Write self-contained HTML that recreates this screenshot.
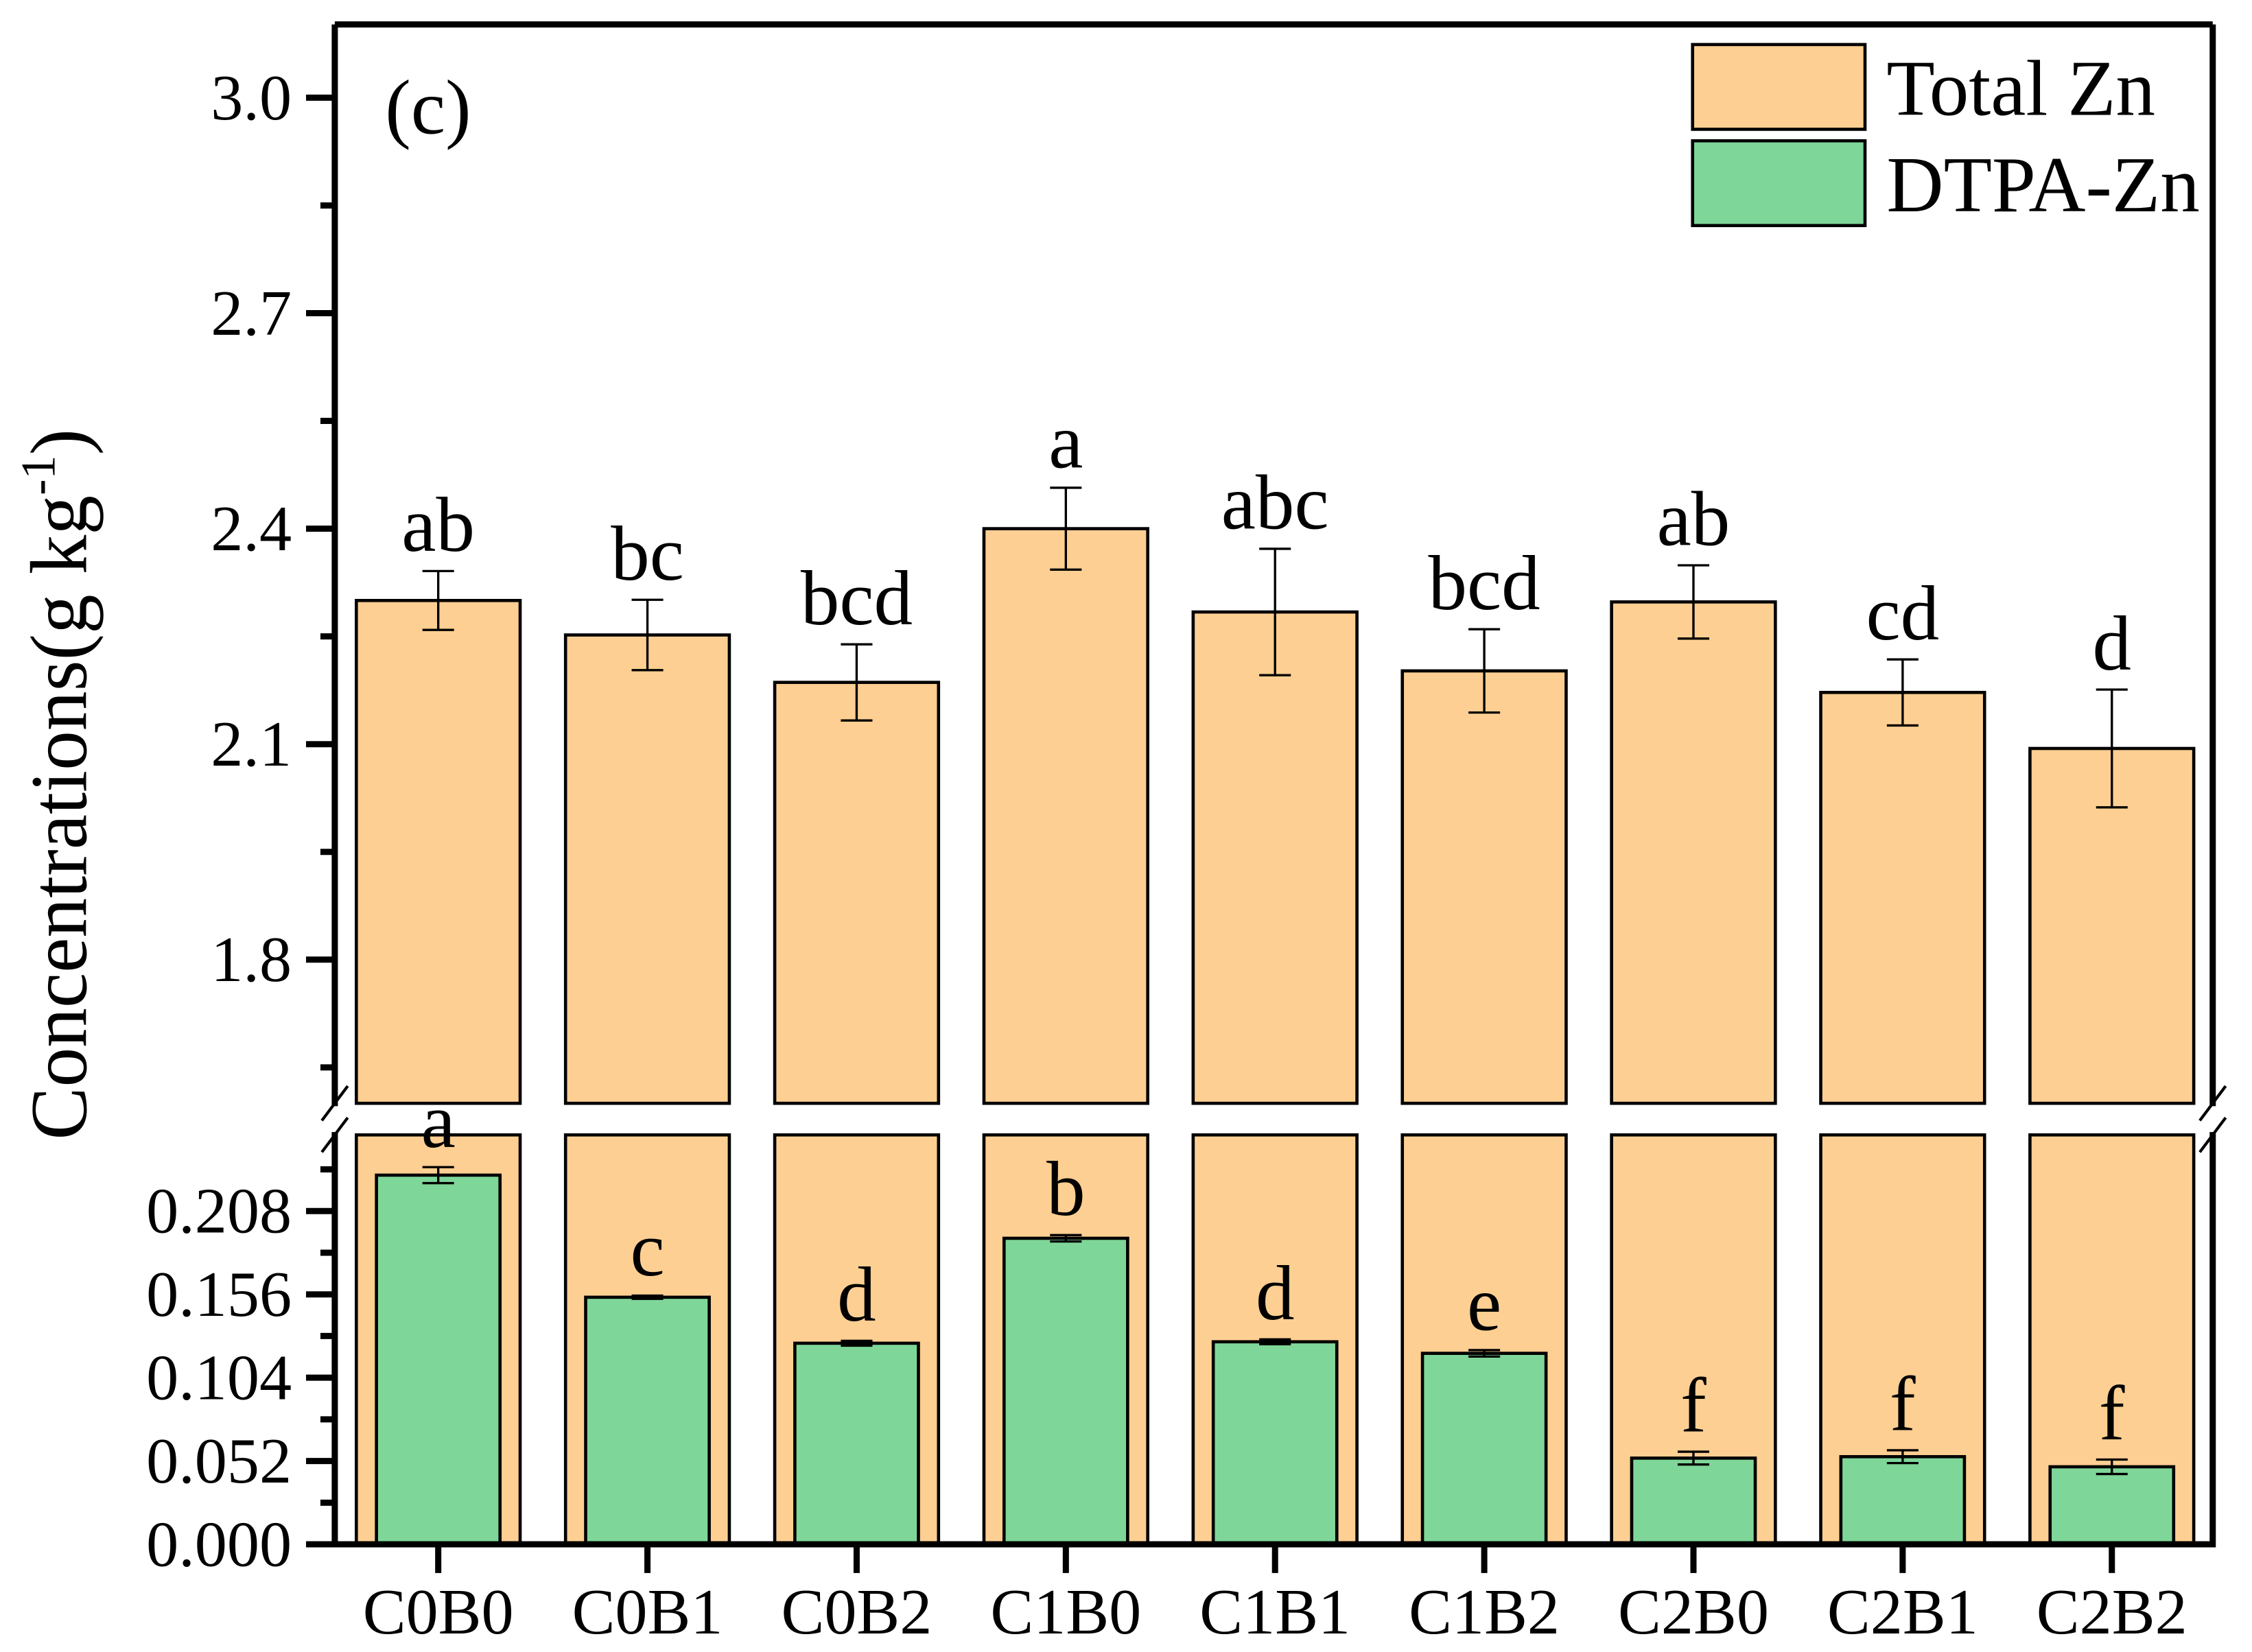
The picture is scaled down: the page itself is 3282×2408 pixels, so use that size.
<!DOCTYPE html>
<html><head><meta charset="utf-8"><style>
html,body{margin:0;padding:0;background:#fff;}
svg{display:block;}
text{font-family:"Liberation Serif","Times New Roman",serif;fill:#000;}
</style></head><body>
<svg id="chart" width="3282" height="2408" viewBox="0 0 3282 2408" xmlns="http://www.w3.org/2000/svg">
<g id="root" transform="scale(2.094)"></g>
</svg>
<script>
const categories = ["C0B0","C0B1","C0B2","C1B0","C1B1","C1B2","C2B0","C2B1","C2B2"];
const totalZn = [2.30,2.252,2.186,2.40,2.284,2.202,2.298,2.172,2.094];
const totalErr = [0.041,0.049,0.053,0.057,0.088,0.058,0.051,0.046,0.082];
const totalLetters = ["ab","bc","bcd","a","abc","bcd","ab","cd","d"];
const dtpaZn = [0.2304,0.1542,0.1255,0.191,0.1264,0.1192,0.0538,0.0547,0.0484];
const dtpaErr = [0.005,0.001,0.0015,0.002,0.0015,0.002,0.004,0.004,0.0045];
const dtpaLetters = ["a","c","d","b","d","e","f","f","f"];
const upperTicks = ["1.8","2.1","2.4","2.7","3.0"];
const lowerTicks = ["0.000","0.052","0.104","0.156","0.208"];

const NS="http://www.w3.org/2000/svg";
const root=document.getElementById('root');
const L=233,R=1540,T=17,B=1075,UB=768,LT=790;
function yU(v){return 68+(3.0-v)*500;}
function yL(v){return 1075-v/0.052*58;}
function xC(i){return 305+i*145.6;}
function mk(tag,attrs,parent){const e=document.createElementNS(NS,tag);for(const k in attrs)e.setAttribute(k,attrs[k]);(parent||root).appendChild(e);return e;}
function line(x1,y1,x2,y2,w,p){return mk('line',{x1:x1,y1:y1,x2:x2,y2:y2,stroke:'#000','stroke-width':w},p);}

const gBars=mk('g',{});


const OW=114, GW=86;
categories.forEach((c,i)=>{
  const x=xC(i);
  const r1=mk('rect',{x:x-OW/2,y:yU(totalZn[i]),width:OW,height:UB-yU(totalZn[i]),fill:'#FECF92',stroke:'#000','stroke-width':2.2},gBars);
  
  
  const r2=mk('rect',{x:x-OW/2,y:LT,width:OW,height:B-LT,fill:'#FECF92',stroke:'#000','stroke-width':2.2},gBars);
  
  
  const et=yU(totalZn[i]+totalErr[i]), eb=yU(totalZn[i]-totalErr[i]);
  const ge=mk('g',{},gBars);
  
  
  line(x,et,x,eb,1.6,ge);line(x-11,et,x+11,et,1.6,ge);line(x-11,eb,x+11,eb,1.6,ge);
  const t1=mk('text',{x:x,y:et-14,'font-size':54,'text-anchor':'middle'},gBars);
  t1.textContent=totalLetters[i];
  
  
  const r3=mk('rect',{x:x-GW/2,y:yL(dtpaZn[i]),width:GW,height:B-yL(dtpaZn[i]),fill:'#7FD699',stroke:'#000','stroke-width':2.2},gBars);
  
  
  const dt=yL(dtpaZn[i]+dtpaErr[i]), db=yL(dtpaZn[i]-dtpaErr[i]);
  const gd=mk('g',{},gBars);
  
  
  line(x,dt,x,db,1.6,gd);line(x-11,dt,x+11,dt,1.6,gd);line(x-11,db,x+11,db,1.6,gd);
  const t2=mk('text',{x:x,y:dt-14,'font-size':54,'text-anchor':'middle'},gBars);
  t2.textContent=dtpaLetters[i];
  
  
});

const gAx=mk('g',{});


line(L,T,R,T,4.3,gAx);
line(L,T,L,UB+2,4.3,gAx);line(R,T,R,UB+2,4.3,gAx);
line(L,LT-2,L,B+2,4.3,gAx);line(R,LT-2,R,B+2,4.3,gAx);
line(L-2,B,R+2,B,4.3,gAx);
[L,R].forEach(x=>{line(x-9,UB+12,x+9,UB-12,2,gAx);line(x-9,LT+12,x+9,LT-12,2,gAx);});

upperTicks.forEach(s=>{const v=parseFloat(s),y=yU(v);line(L-20,y,L,y,4.3,gAx);
  const t=mk('text',{x:L-30,y:y+15,'font-size':45,'text-anchor':'end'},gAx);t.textContent=s;
  
  });
[1.65,1.95,2.25,2.55,2.85].forEach(v=>{const y=yU(v);line(L-10,y,L,y,4.3,gAx);});
lowerTicks.forEach(s=>{const v=parseFloat(s),y=yL(v);line(L-20,y,L,y,4.3,gAx);
  const t=mk('text',{x:L-30,y:y+15,'font-size':45,'text-anchor':'end'},gAx);t.textContent=s;
  
  });
[0.026,0.078,0.13,0.182,0.234].forEach(v=>{const y=yL(v);line(L-10,y,L,y,4.3,gAx);});
categories.forEach((c,i)=>{const x=xC(i);line(x,B,x,B+20,4.3,gAx);
  const t=mk('text',{x:x,y:B+62,'font-size':45,'text-anchor':'middle'},gAx);t.textContent=c;
  
  });

const yt=mk('text',{transform:'translate(60,546) rotate(-90)','font-size':56,'text-anchor':'middle',textLength:495,lengthAdjust:'spacingAndGlyphs'});


yt.innerHTML='Concentrations(g kg<tspan font-size="34" dy="-22">-1</tspan><tspan dy="22">)</tspan>';

const pl=mk('text',{x:268,y:93,'font-size':54});
pl.textContent='(c)';



const gL=mk('g',{});


const e1=mk('g',{},gL);


mk('rect',{x:1178,y:31,width:120,height:59,fill:'#FECF92',stroke:'#000','stroke-width':2.2},e1);
const lt1=mk('text',{x:1313,y:80,'font-size':55},e1);lt1.textContent='Total Zn';
const e2=mk('g',{},gL);


mk('rect',{x:1178,y:98,width:120,height:59,fill:'#7FD699',stroke:'#000','stroke-width':2.2},e2);
const lt2=mk('text',{x:1313,y:147,'font-size':55},e2);lt2.textContent='DTPA-Zn';
</script>
</body></html>
